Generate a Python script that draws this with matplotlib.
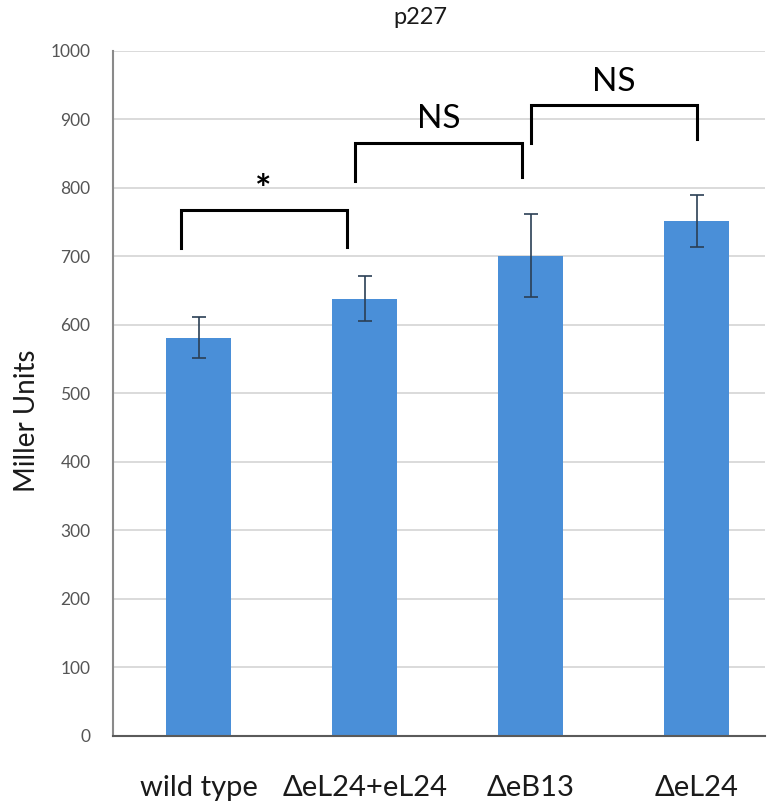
import numpy as np
import matplotlib
matplotlib.use('Agg')
import matplotlib.pyplot as plt

plt.rcParams['font.family'] = ['Lato', 'DejaVu Sans']

# data
categories = ['wild type', '\u0394eL24+eL24', '\u0394eB13', '\u0394eL24']
values = [581, 638, 701, 751]
errors = [30, 33, 61, 38]
yticks = [0, 100, 200, 300, 400, 500, 600, 700, 800, 900, 1000]

# significance brackets: (left x, right x, top, left leg end, right leg end, label)
brackets = [(-0.11, 0.89, 768, 712, 714, '*'),
            (0.94, 1.95, 866, 810, 816, 'NS'),
            (2.00, 3.00, 921, 866, 872, 'NS')]

# colors
blue = '#4A8FD8'
grid_grey = '#D4D4D4'
dark = '#1A1A1A'

fig = plt.figure(figsize=(7.78, 8.07), dpi=100)
ax = fig.add_axes([0.145, 0.088, 0.838, 0.849])

x = np.arange(len(categories))
ax.bar(x, values, width=0.39, color=blue, zorder=2)
ax.errorbar(x, values, yerr=errors, fmt='none', ecolor='#2B3F55',
            elinewidth=1.2, capsize=5, capthick=1.2, zorder=3)

ax.set_xlim(-0.518, 3.41)
ax.set_ylim(0, 1000)
ax.set_yticks(yticks)
ax.set_xticks(x)
ax.set_xticklabels(categories, fontsize=21, color=dark)
ax.tick_params(axis='y', labelsize=12.5, colors='#555555', length=0, pad=16)
ax.tick_params(axis='x', length=0, pad=28)
ax.yaxis.grid(True, color=grid_grey, lw=1.2, zorder=0)
ax.set_axisbelow(True)

for side in ['top', 'right']:
    ax.spines[side].set_visible(False)
ax.spines['left'].set_color('#8A8A8A')
ax.spines['left'].set_linewidth(1.5)
ax.spines['bottom'].set_color('#5A5A5A')
ax.spines['bottom'].set_linewidth(1.5)

ax.set_ylabel('Miller Units', fontsize=20, color=dark)
ax.yaxis.set_label_coords(-0.112, 0.46)

# brackets
for x0, x1, top, l0, l1, label in brackets:
    ax.plot([x0, x0, x1, x1], [l0, top, top, l1], color='black', lw=2.2,
            solid_joinstyle='miter', zorder=4)
    if label == '*':
        ax.text((x0 + x1) / 2, top + 2, label, ha='center', va='bottom',
                fontsize=28, fontweight='bold', color='black')
    else:
        ax.text((x0 + x1) / 2, top + 12, label, ha='center', va='bottom',
                fontsize=24, color='black')

fig.text(420 / 778, 1 - 18 / 807, 'p227', ha='center', va='center',
         fontsize=17, color=dark)

fig.savefig('out.png', dpi=100)
